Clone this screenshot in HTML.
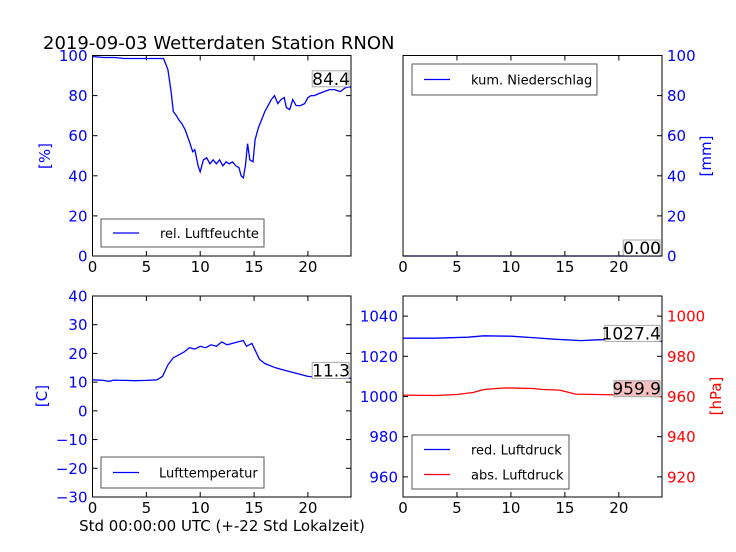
<!DOCTYPE html>
<html><head><meta charset="utf-8"><style>
body{margin:0;background:#fff;}
svg{display:block;font-family:"DejaVu Sans","Liberation Sans",sans-serif;}
</style></head><body>
<svg id="fig" width="736" height="552" viewBox="0 0 736 552">
<rect width="736" height="552" fill="#fff"/>
<text x="43" y="49" font-size="18">2019-09-03 Wetterdaten Station RNON</text>
<text x="222" y="531" font-size="15" text-anchor="middle">Std 00:00:00 UTC (+-22 Std Lokalzeit)</text>
</svg>
<script>
const hours=[0,1,2,3,4,5,6,6.6,7,7.3,7.5,7.8,8,8.3,8.6,9,9.3,9.5,9.8,10,10.3,10.6,10.9,11.2,11.5,11.8,12.1,12.4,12.7,13,13.3,13.6,13.8,14,14.2,14.4,14.6,14.9,15.1,15.4,15.7,16,16.3,16.6,16.9,17.2,17.5,17.8,18,18.3,18.6,18.9,19.3,19.7,20,20.3,20.6,21,21.5,22,22.5,23,23.5,24];
const humidity=[99.5,99,99,98.5,98.5,98.5,98.5,98.5,93,82,72,70,68,66,63,57,52,53,45,42,48,49,46,48,46,48,45,47,46,47,45,44,40,39,45,56,48,47,58,64,68,72,75,78,80,76,78,79,74,73,78,75,75,76,79,80,80,81,82,83,83,82,84,84.4];
const tempHours=[0,1,1.5,2,3,4,5,6,6.5,7,7.5,8,8.5,9,9.5,10,10.5,11,11.5,12,12.5,13,13.5,14,14.3,14.8,15.5,16,17,18,19,20,21,22,23,24];
const temperature=[10.8,10.6,10.3,10.7,10.6,10.5,10.6,10.8,12,16,18.5,19.5,20.5,22,21.5,22.5,22,23,22.5,24,23,23.5,24,24.5,22.5,23.5,18,16.5,15,14,13,12,11.7,11.5,11.3,11.3];
const precipHours=[0,24];
const precipitation=[0,0];
const redHours=[0,3,6,7.5,10,12,14,16.5,18,20,22,24];
const redPressure=[1029,1029,1029.5,1030.2,1030,1029.3,1028.5,1027.8,1028.2,1028.3,1028,1027.4];
const absHours=[0,3,5,6.5,7.5,9.5,12,13,14.5,16,18,20,22,24];
const absPressure=[960.7,960.5,961,962,963.5,964.3,964,963.5,963.2,961.2,961,960.8,960.3,959.9];
const xTicks=[0,5,10,15,20];

const NS="http://www.w3.org/2000/svg";
const svg=document.getElementById('fig');
function mk(tag,attrs,parent){const e=document.createElementNS(NS,tag);for(const k in attrs)e.setAttribute(k,attrs[k]);(parent||svg).appendChild(e);return e;}

function axes(p){
  const g=mk('g',{});
  
  
  const sx=v=>p.x0+(v-0)/24*(p.x1-p.x0);
  const syL=v=>p.y1-(v-p.lmin)/(p.lmax-p.lmin)*(p.y1-p.y0);
  const syR=p.rmin!==undefined?v=>p.y1-(v-p.rmin)/(p.rmax-p.rmin)*(p.y1-p.y0):null;
  xTicks.forEach(t=>{const x=sx(t);
    mk('line',{x1:x,x2:x,y1:p.y1,y2:p.y1-5,stroke:'#000'},g);
    mk('line',{x1:x,x2:x,y1:p.y0,y2:p.y0+5,stroke:'#000'},g);
    const tx=mk('text',{x:x,y:p.y1+16,'font-size':15,'text-anchor':'middle'},g);tx.textContent=t;
    
    
  });
  if(p.lticks){p.lticks.forEach(t=>{const y=syL(t);
    mk('line',{x1:p.x0,x2:p.x0+5,y1:y,y2:y,stroke:'#000'},g);
    if(!p.rticks) mk('line',{x1:p.x1,x2:p.x1-5,y1:y,y2:y,stroke:'#000'},g);
    const tx=mk('text',{x:p.x0-5,y:y+5.5,'font-size':15,'text-anchor':'end',fill:'#00f'},g);tx.textContent=String(t).replace('-','\u2212');
    
    
  });}
  if(p.rticks){p.rticks.forEach(t=>{const y=syR(t);
    mk('line',{x1:p.x1,x2:p.x1-5,y1:y,y2:y,stroke:'#000'},g);
    const tx=mk('text',{x:p.x1+5,y:y+5.5,'font-size':15,'text-anchor':'start',fill:p.rcolor},g);tx.textContent=t;
    
    
  });}
  p.series.forEach(s=>{
    const sy=s.right?syR:syL;
    const d=s.xs.map((x,i)=>(i?'L':'M')+sx(x).toFixed(1)+','+sy(s.ys[i]).toFixed(1)).join('');
    const path=mk('path',{d:d,fill:'none',stroke:s.color,'stroke-width':1.3},g);
    
    
    const last=s.ys[s.ys.length-1];
    const ly=sy(last)-8;
    const txt=s.label;
    const w=txt.length*9.2;
    const bx=p.x1-w-2;
    const br=mk('rect',{x:bx,y:ly-8,width:w,height:16,fill:s.boxFill,stroke:'#aaa','stroke-width':1},g);
    
    
    const vt=mk('text',{x:p.x1-1,y:ly+6,'font-size':17,'text-anchor':'end'},g);vt.textContent=txt;
    
    
  });
  mk('rect',{x:p.x0,y:p.y0,width:p.x1-p.x0,height:p.y1-p.y0,fill:'none',stroke:'#000','stroke-width':1},g);
  const L=p.legend;
  const lg=mk('g',{},g);
  
  
  mk('rect',{x:L.x,y:L.y,width:L.w,height:L.h,fill:'#fff',stroke:'#555','stroke-width':1},lg);
  L.items.forEach((it,i)=>{const y=L.y+L.h/2+(i-(L.items.length-1)/2)*25;
    mk('line',{x1:L.x+12,x2:L.x+38,y1:y,y2:y,stroke:it.color,'stroke-width':1.3},lg);
    const t=mk('text',{x:L.x+L.tx,y:y+5,'font-size':13},lg);t.textContent=it.text;
    
    
  });
}

axes({name:'humidity-chart',x0:92.5,x1:351,y0:55.5,y1:256,lmin:0,lmax:100,lticks:[0,20,40,60,80,100],
  series:[{name:'humidity-line',xs:hours,ys:humidity,color:'#00f',label:'84.4',boxFill:'#fff'}],
  legend:{x:101,y:219,w:163,h:28,tx:59,items:[{color:'#00f',text:'rel. Luftfeuchte'}]}});
axes({name:'precipitation-chart',x0:403,x1:662,y0:55.5,y1:256,lmin:0,lmax:100,rmin:0,rmax:100,rticks:[0,20,40,60,80,100],rcolor:'#00f',
  series:[{name:'precipitation-line',xs:precipHours,ys:precipitation,color:'#00f',label:'0.00',boxFill:'#fff',right:true}],
  legend:{x:412,y:64,w:185,h:31,tx:59,items:[{color:'#00f',text:'kum. Niederschlag'}]}});
axes({name:'temperature-chart',x0:92.5,x1:351,y0:296,y1:497,lmin:-30,lmax:40,lticks:[-30,-20,-10,0,10,20,30,40],
  series:[{name:'temperature-line',xs:tempHours,ys:temperature,color:'#00f',label:'11.3',boxFill:'#fff'}],
  legend:{x:101,y:457,w:163,h:31,tx:58,items:[{color:'#00f',text:'Lufttemperatur'}]}});
axes({name:'pressure-chart',x0:403,x1:662,y0:296,y1:497,lmin:950,lmax:1050,lticks:[960,980,1000,1020,1040],rmin:910,rmax:1010,rticks:[920,940,960,980,1000],rcolor:'#f00',
  series:[{name:'red-pressure-line',xs:redHours,ys:redPressure,color:'#00f',label:'1027.4',boxFill:'#fff'},
          {name:'abs-pressure-line',xs:absHours,ys:absPressure,color:'#f00',label:'959.9',boxFill:'#f5c0c0',right:true}],
  legend:{x:412,y:435,w:157,h:54,tx:59,items:[{color:'#00f',text:'red. Luftdruck'},{color:'#f00',text:'abs. Luftdruck'}]}});

function ylab(txt,x,y,color,name){const t=mk('text',{x:x,y:y,'font-size':15,fill:color,'text-anchor':'middle',transform:`rotate(-90 ${x} ${y})`});t.textContent=txt;
  
  }
ylab('[%]',50,156,'#00f','humidity-y-axis-title');
ylab('[mm]',711,156,'#00f','precipitation-y-axis-title');
ylab('[C]',47,396,'#00f','temperature-y-axis-title');
ylab('[hPa]',721,396,'#f00','pressure-y-axis-title');
</script>
</body></html>
